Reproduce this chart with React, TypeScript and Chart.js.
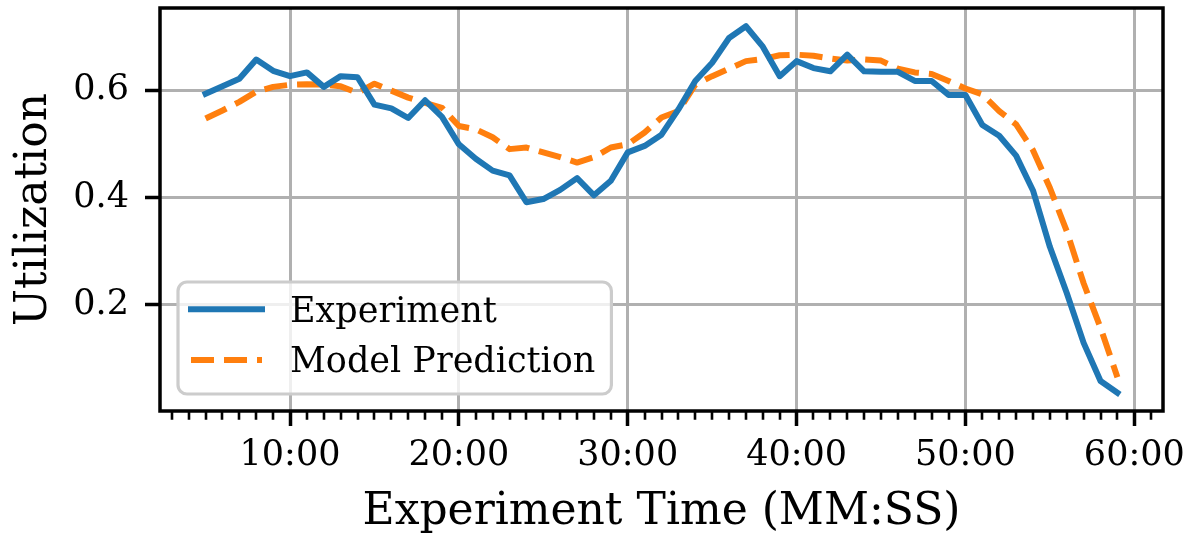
import React, { useEffect, useRef } from "react";
import { Chart, registerables } from "chart.js";

Chart.register(...registerables);

const minutes = [
  5, 6, 7, 8, 9, 10, 11, 12, 13, 14, 15, 16, 17, 18, 19, 20, 21, 22, 23, 24,
  25, 26, 27, 28, 29, 30, 31, 32, 33, 34, 35, 36, 37, 38, 39, 40, 41, 42, 43,
  44, 45, 46, 47, 48, 49, 50, 51, 52, 53, 54, 55, 56, 57, 58, 59,
];

const experiment = [
  0.593, 0.607, 0.621, 0.657, 0.636, 0.626, 0.633, 0.606, 0.626, 0.624,
  0.573, 0.566, 0.548, 0.581, 0.55, 0.499, 0.472, 0.45, 0.441, 0.391,
  0.397, 0.414, 0.436, 0.404, 0.431, 0.484, 0.496, 0.517, 0.564, 0.617,
  0.651, 0.697, 0.719, 0.681, 0.626, 0.654, 0.641, 0.635, 0.666, 0.635,
  0.634, 0.634, 0.617, 0.617, 0.591, 0.591, 0.535, 0.515, 0.478, 0.413,
  0.308, 0.222, 0.129, 0.058, 0.036,
];

const model = [
  0.547, 0.562, 0.578, 0.597, 0.606, 0.61, 0.611, 0.61, 0.607, 0.595,
  0.612, 0.599, 0.586, 0.576, 0.567, 0.533, 0.527, 0.512, 0.49, 0.493,
  0.484, 0.475, 0.465, 0.475, 0.493, 0.499, 0.521, 0.549, 0.561, 0.61,
  0.626, 0.64, 0.654, 0.658, 0.665, 0.666, 0.664, 0.659, 0.655, 0.657,
  0.655, 0.64, 0.633, 0.63, 0.617, 0.603, 0.592, 0.561, 0.536, 0.488,
  0.418, 0.337, 0.24, 0.157, 0.065,
];

const xTickMinutes = [10, 20, 30, 40, 50, 60];
const xTickLabels = ["10:00", "20:00", "30:00", "40:00", "50:00", "60:00"];
const yTickValues = [0.2, 0.4, 0.6];
const yTickLabels = ["0.2", "0.4", "0.6"];

const seriesLabels = ["Experiment", "Model Prediction"];
const FONT = "DejaVu Serif";

const frameMinorPlugin = {
  id: "frameMinor",
  afterDatasetsDraw(chart: any) {
    const { ctx, chartArea: a, scales } = chart;
    const x = scales.x;
    ctx.save();
    ctx.strokeStyle = "#000";
    ctx.lineWidth = 2.6;
    ctx.beginPath();
    for (let m = Math.ceil(x.min); m <= Math.floor(x.max); m++) {
      if (xTickMinutes.includes(m)) continue;
      const px = Math.round(x.getPixelForValue(m));
      ctx.moveTo(px, a.bottom);
      ctx.lineTo(px, a.bottom + 8.7);
    }
    ctx.stroke();
    ctx.lineWidth = 3.5;
    ctx.strokeRect(a.left, a.top, a.right - a.left, a.bottom - a.top);
    ctx.restore();
  },
};

const legendPlugin = {
  id: "mplLegend",
  afterDraw(chart: any) {
    const { ctx, chartArea: a } = chart;
    const ds = chart.data.datasets;
    ctx.save();
    ctx.font = `35px "${FONT}"`;
    const x0 = a.left + 18;
    const y1 = a.bottom - 17;
    const y0 = y1 - 112;
    const textX = x0 + 112;
    let maxW = 0;
    ds.forEach((d: any) => {
      maxW = Math.max(maxW, ctx.measureText(d.label).width);
    });
    const x1 = textX + maxW + 16;
    const r = 9;
    ctx.beginPath();
    ctx.moveTo(x0 + r, y0);
    ctx.arcTo(x1, y0, x1, y1, r);
    ctx.arcTo(x1, y1, x0, y1, r);
    ctx.arcTo(x0, y1, x0, y0, r);
    ctx.arcTo(x0, y0, x1, y0, r);
    ctx.closePath();
    ctx.fillStyle = "rgba(255,255,255,0.8)";
    ctx.fill();
    ctx.strokeStyle = "#cccccc";
    ctx.lineWidth = 3.2;
    ctx.stroke();

    const rowsY = [y0 + 27.3, y0 + 78];
    const baseY = [y0 + 39.7, y0 + 89.7];
    ds.forEach((d: any, i: number) => {
      ctx.beginPath();
      ctx.strokeStyle = d.borderColor;
      ctx.lineWidth = d.borderWidth;
      ctx.setLineDash(d.borderDash || []);
      ctx.lineCap = d.borderDash ? "butt" : "square";
      ctx.moveTo(x0 + 13, rowsY[i]);
      ctx.lineTo(x0 + 84, rowsY[i]);
      ctx.stroke();
      ctx.setLineDash([]);
      ctx.fillStyle = "#000";
      ctx.textBaseline = "alphabetic";
      ctx.textAlign = "left";
      ctx.fillText(d.label, textX, baseY[i]);
    });
    ctx.restore();
  },
};

export default function App() {
  const ref = useRef<HTMLCanvasElement>(null);

  useEffect(() => {
    if (!ref.current) return;
    const chart = new Chart(ref.current, {
      type: "line",
      data: {
        datasets: [
          {
            label: seriesLabels[0],
            data: minutes.map((m, i) => ({ x: m, y: experiment[i] })),
            borderColor: "#1f77b4",
            backgroundColor: "#1f77b4",
            borderWidth: 6,
            pointRadius: 0,
            tension: 0,
            fill: false,
            borderJoinStyle: "round",
            borderCapStyle: "square",
          },
          {
            label: seriesLabels[1],
            data: minutes.map((m, i) => ({ x: m, y: model[i] })),
            borderColor: "#ff7f0e",
            backgroundColor: "#ff7f0e",
            borderWidth: 6,
            borderDash: [23, 10],
            pointRadius: 0,
            tension: 0,
            fill: false,
            borderJoinStyle: "round",
          },
        ],
      },
      options: {
        animation: false,
        responsive: false,
        devicePixelRatio: 1,
        layout: { padding: { top: 8, right: 23, left: 0, bottom: 0 } },
        plugins: {
          legend: { display: false },
          tooltip: { enabled: false },
        },
        scales: {
          x: {
            type: "linear",
            min: 2.3,
            max: 61.7,
            afterBuildTicks: (s: any) => {
              s.ticks = xTickMinutes.map((v) => ({ value: v }));
            },
            afterFit: (s: any) => {
              s.height = 124;
              s.paddingLeft = 0;
              s.paddingRight = 0;
              s.paddingTop = 0;
              s.paddingBottom = 0;
            },
            ticks: {
              autoSkip: false,
              maxRotation: 0,
              color: "#000",
              padding: 9,
              font: { family: FONT, size: 35 },
              callback: (v: any) => {
                const i = xTickMinutes.indexOf(Number(v));
                return i >= 0 ? xTickLabels[i] : "";
              },
            },
            grid: {
              color: "#b0b0b0",
              lineWidth: 3,
              drawTicks: true,
              tickColor: "#000",
              tickWidth: 3.5,
              tickLength: 15,
            },
            border: { display: false },
            title: {
              display: true,
              text: "Experiment Time (MM:SS)",
              color: "#000",
              font: { family: FONT, size: 44, lineHeight: 1 },
              padding: { top: 0, bottom: 0 },
            },
          },
          y: {
            type: "linear",
            min: 0.002,
            max: 0.753,
            afterBuildTicks: (s: any) => {
              s.ticks = yTickValues.map((v) => ({ value: v }));
            },
            afterFit: (s: any) => {
              s.width = 160;
              s.paddingLeft = 0;
              s.paddingRight = 0;
              s.paddingTop = 0;
              s.paddingBottom = 0;
            },
            ticks: {
              color: "#000",
              padding: 16,
              font: { family: FONT, size: 35 },
              callback: (v: any) => {
                const i = yTickValues.findIndex((t) => Math.abs(t - Number(v)) < 1e-9);
                return i >= 0 ? yTickLabels[i] : "";
              },
            },
            grid: {
              color: "#b0b0b0",
              lineWidth: 3,
              drawTicks: true,
              tickColor: "#000",
              tickWidth: 3.5,
              tickLength: 15,
            },
            border: { display: false },
            title: {
              display: true,
              text: "Utilization",
              color: "#000",
              font: { family: FONT, size: 44, lineHeight: 1 },
              padding: { top: 13, bottom: 0 },
            },
          },
        },
      },
      plugins: [frameMinorPlugin, legendPlugin],
    } as any);
    return () => chart.destroy();
  }, []);

  return (
    <div style={{ position: "absolute", left: 0, top: 0, width: 1186, height: 535, background: "#fff" }}>
      <canvas ref={ref} width={1186} height={535} style={{ display: "block" }} />
    </div>
  );
}
